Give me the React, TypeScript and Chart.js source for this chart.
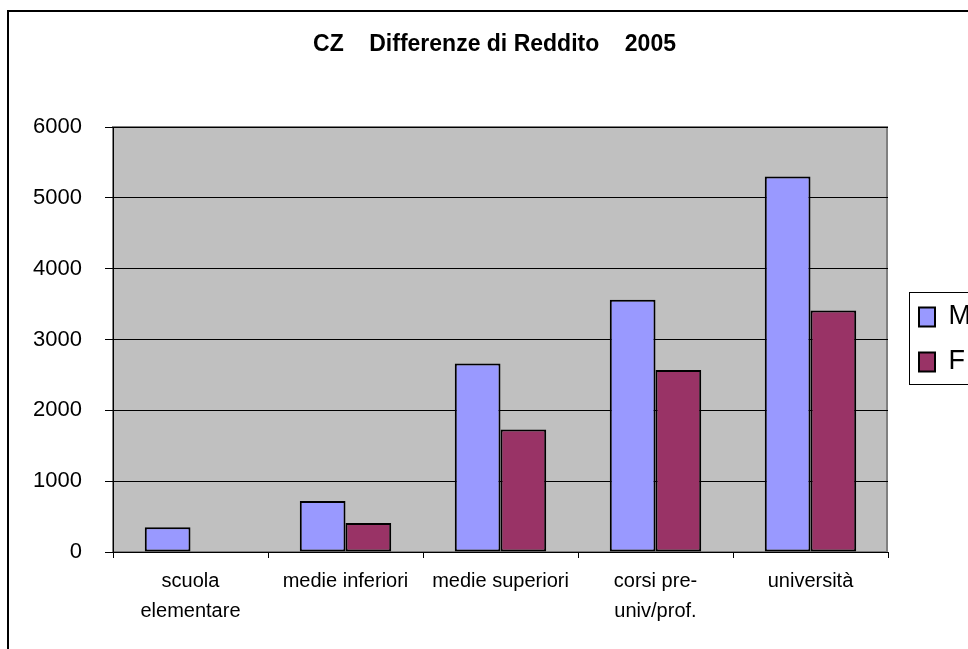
import React, { useEffect, useRef } from 'react';
import { Chart, registerables } from 'chart.js';

Chart.register(...registerables);

const chartTitle = 'CZ    Differenze di Reddito    2005';
const categories: (string | string[])[] = [
  ['scuola', 'elementare'],
  'medie inferiori',
  'medie superiori',
  ['corsi pre-', 'univ/prof.'],
  'università',
];
const seriesNames = ['M', 'F'];
const valuesM = [350, 720, 2660, 3560, 5300];
const valuesF: (number | null)[] = [null, 410, 1730, 2570, 3410];
const yMin = 0;
const yMax = 6000;
const yStep = 1000;

const colorM = '#9999FF';
const colorF = '#993366';
const FONT = '"Liberation Sans", Arial, Helvetica, sans-serif';

const W = 984;
const H = 649;

const decor = {
  id: 'decor',
  beforeDraw(chart: any) {
    const { ctx, chartArea: a } = chart;
    ctx.save();
    ctx.fillStyle = '#ffffff';
    ctx.fillRect(0, 0, chart.width, chart.height);
    // outer frame
    ctx.strokeStyle = '#000000';
    ctx.lineWidth = 2;
    ctx.strokeRect(8, 11, chart.width + 40, chart.height + 40);
    // plot area
    ctx.fillStyle = '#C0C0C0';
    ctx.fillRect(a.left, a.top, a.right - a.left, a.bottom - a.top);
    ctx.strokeStyle = '#808080';
    ctx.lineWidth = 2;
    ctx.strokeRect(a.left, a.top, a.right - a.left - 1, a.bottom - a.top);
    ctx.restore();
  },
  afterDraw(chart: any) {
    const lg = chart.legend;
    const hb = lg && lg.legendHitBoxes;
    if (!hb || !hb.length) return;
    const { ctx } = chart;
    const last = hb[hb.length - 1];
    const top = Math.round(hb[0].top - 11.5) + 0.5;
    const bottom = Math.round(last.top + last.height + 8.5) + 0.5;
    ctx.save();
    ctx.strokeStyle = '#000000';
    ctx.lineWidth = 1;
    ctx.strokeRect(Math.round(lg.left + 8) + 0.5, top, 300, bottom - top);
    ctx.restore();
  },
};

export default function App() {
  const ref = useRef<HTMLCanvasElement | null>(null);

  useEffect(() => {
    if (!ref.current) return;
    Chart.defaults.font.family = FONT;
    Chart.defaults.color = '#000000';
    const chart = new Chart(ref.current, {
      type: 'bar',
      data: {
        labels: categories,
        datasets: [
          {
            label: seriesNames[0],
            data: valuesM,
            backgroundColor: colorM,
            borderColor: '#000000',
            borderWidth: 2,
            borderSkipped: false,
            barPercentage: 1,
            categoryPercentage: 0.59,
          },
          {
            label: seriesNames[1],
            data: valuesF,
            backgroundColor: colorF,
            borderColor: '#000000',
            borderWidth: 2,
            borderSkipped: false,
            barPercentage: 1,
            categoryPercentage: 0.59,
          },
        ],
      },
      options: {
        responsive: false,
        animation: false,
        devicePixelRatio: 1,
        layout: { padding: { left: 10, right: W - 979, top: 0, bottom: 0 } },
        plugins: {
          title: {
            display: true,
            text: chartTitle,
            color: '#000000',
            font: { family: FONT, size: 23, weight: 'bold', lineHeight: 1.2 },
            padding: { top: 31, bottom: 68.4 },
          },
          legend: {
            display: true,
            position: 'right',
            align: 'center',
            fullSize: false,
            maxWidth: 78,
            labels: {
              color: '#000000',
              font: { family: FONT, size: 27 },
              boxWidth: 16,
              boxHeight: 19,
              padding: 18,
            },
          },
          tooltip: { enabled: false },
        },
        scales: {
          x: {
            grid: {
              offset: true,
              drawOnChartArea: false,
              drawTicks: true,
              tickLength: 6,
              color: '#000000',
            },
            border: { color: '#000000', width: 1 },
            ticks: {
              color: '#000000',
              font: { family: FONT, size: 20, lineHeight: 1.5 },
              padding: 8,
              maxRotation: 0,
              autoSkip: false,
            },
            afterFit: (s: any) => {
              s.height = 97;
            },
          },
          y: {
            min: yMin,
            max: yMax,
            ticks: {
              stepSize: yStep,
              color: '#000000',
              font: { family: FONT, size: 22 },
              padding: 23,
              callback: (v: any) => String(v),
            },
            grid: { color: '#000000', lineWidth: 1, tickLength: 8 },
            border: { color: '#000000', width: 1 },
            afterFit: (s: any) => {
              s.width = 103;
            },
          },
          y2: {
            type: 'linear',
            position: 'right',
            display: true,
            grid: { display: false },
            ticks: { display: false },
            border: { display: false },
            afterFit: (s: any) => {
              s.width = 13;
            },
          },
        },
      } as any,
      plugins: [decor],
    });
    return () => chart.destroy();
  }, []);

  return (
    <div
      style={{
        position: 'fixed',
        left: 0,
        top: 0,
        width: 968,
        height: 649,
        overflow: 'hidden',
        background: '#ffffff',
      }}
    >
      <canvas
        ref={ref}
        width={W}
        height={H}
        style={{ position: 'absolute', left: 0, top: 0, width: W, height: H, display: 'block' }}
      />
    </div>
  );
}
